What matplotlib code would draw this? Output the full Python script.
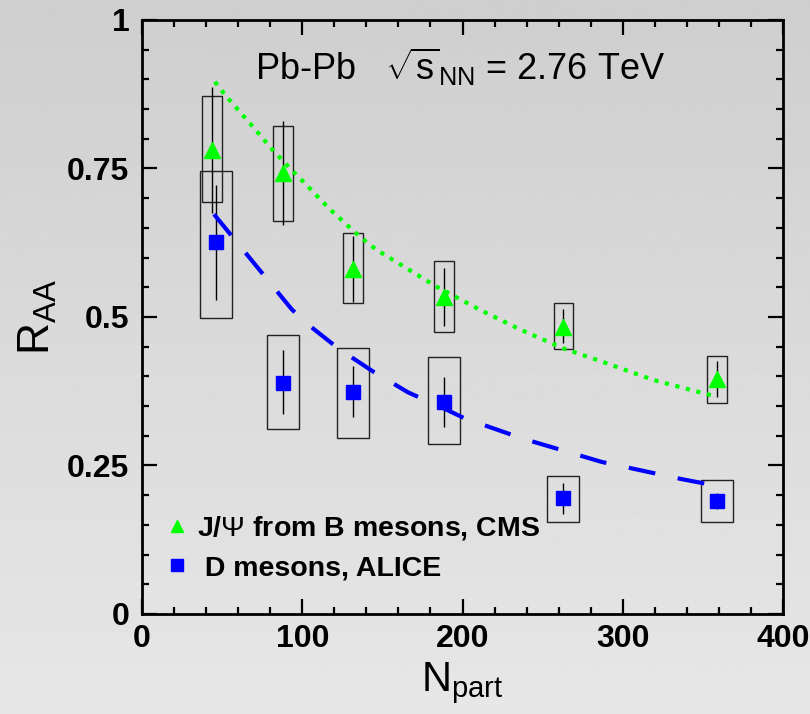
import numpy as np
import matplotlib
matplotlib.use("Agg")
import matplotlib.pyplot as plt
from matplotlib.patches import Rectangle
from matplotlib.lines import Line2D

plt.rcParams["font.family"] = ["Liberation Sans", "DejaVu Sans"]
plt.rcParams["mathtext.fontset"] = "custom"
plt.rcParams["mathtext.rm"] = "Liberation Sans"
plt.rcParams["mathtext.it"] = "Liberation Sans:italic"
plt.rcParams["mathtext.bf"] = "Liberation Sans:bold"

# J/psi from B mesons, CMS
jpsi_npart = [43.7, 88.1, 131.4, 188.4, 263.0, 359.0]
jpsi_raa = [0.781, 0.743, 0.580, 0.534, 0.483, 0.396]
jpsi_stat_lo = [0.675, 0.655, 0.526, 0.485, 0.457, 0.366]
jpsi_stat_hi = [0.888, 0.830, 0.637, 0.582, 0.513, 0.426]
jpsi_syst_lo = [0.693, 0.662, 0.523, 0.475, 0.446, 0.356]
jpsi_syst_hi = [0.872, 0.821, 0.641, 0.594, 0.524, 0.435]

# D mesons, ALICE
d_npart = [46.2, 88.2, 131.8, 188.4, 263.0, 359.0]
d_raa = [0.627, 0.389, 0.374, 0.357, 0.195, 0.190]
d_stat_lo = [0.529, 0.336, 0.332, 0.315, 0.168, 0.176]
d_stat_hi = [0.722, 0.444, 0.418, 0.399, 0.220, 0.204]
d_syst_lo = [0.498, 0.311, 0.296, 0.286, 0.154, 0.154]
d_syst_hi = [0.745, 0.469, 0.448, 0.433, 0.233, 0.225]

# model curves
b_curve_x = [45.5, 52.4, 67.4, 81.9, 92.8, 100.6, 116.2, 136.0, 146.4, 165.1, 183.8,
             210.9, 235.9, 263.0, 283.7, 319.0, 358.2]
b_curve_y = [0.896, 0.872, 0.826, 0.780, 0.749, 0.728, 0.684, 0.635, 0.613, 0.582, 0.551,
             0.512, 0.479, 0.447, 0.428, 0.394, 0.366]
d_curve_x = [44.9, 93.4, 102.8, 123.0, 144.3, 166.1, 188.4, 201.6, 237.9, 286.8, 336.8, 358.2]
d_curve_y = [0.673, 0.513, 0.489, 0.446, 0.408, 0.373, 0.346, 0.329, 0.295, 0.256, 0.227, 0.216]

GREEN = "#00ff00"
BLUE = "#0000ff"

fig = plt.figure(figsize=(8.1, 7.14), dpi=100)

# grey gradient background
bg = fig.add_axes([0, 0, 1, 1], zorder=-10)
grad = np.linspace(0.81, 0.905, 256).reshape(-1, 1)
bg.imshow(grad, aspect="auto", cmap="gray", vmin=0, vmax=1, extent=[0, 1, 0, 1], origin="upper")
bg.set_axis_off()

ax = fig.add_axes([0.1753, 0.1401, 0.7914, 0.8319])
ax.set_facecolor("none")

# systematic boxes
for x, lo, hi in zip(jpsi_npart, jpsi_syst_lo, jpsi_syst_hi):
    ax.add_patch(Rectangle((x - 6.2, lo), 12.4, hi - lo, fill=False,
                           edgecolor="#222222", lw=1.0, zorder=2))
for x, lo, hi in zip(d_npart, d_syst_lo, d_syst_hi):
    ax.add_patch(Rectangle((x - 10, lo), 20, hi - lo, fill=False,
                           edgecolor="#222222", lw=1.0, zorder=2))

# statistical bars
ax.vlines(jpsi_npart, jpsi_stat_lo, jpsi_stat_hi, color="black", lw=1.0, zorder=3)
ax.vlines(d_npart, d_stat_lo, d_stat_hi, color="black", lw=1.0, zorder=3)

# curves
ax.plot(b_curve_x, b_curve_y, color=GREEN, lw=3, ls=(0, (1, 1.6)), zorder=4)
ax.plot(d_curve_x, d_curve_y, color=BLUE, lw=3, ls=(0, (6.5, 5.5)), zorder=4)

# points
ax.plot(jpsi_npart, jpsi_raa, "^", color=GREEN, ms=11, mec=GREEN, ls="none", zorder=5)
ax.plot(d_npart, d_raa, "s", color=BLUE, ms=10, mec=BLUE, ls="none", zorder=5)

ax.set_xlim(0, 400)
ax.set_ylim(0, 1)
ax.set_xticks([0, 100, 200, 300, 400])
ax.set_xticks(np.arange(0, 401, 20), minor=True)
ax.set_yticks([0, 0.25, 0.5, 0.75, 1])
ax.set_yticklabels(["0", "0.25", "0.5", "0.75", "1"])
ax.set_yticks(np.arange(0, 1.001, 0.05), minor=True)
ax.tick_params(which="both", direction="in", top=True, right=True, width=1.6)
ax.tick_params(which="major", length=11, labelsize=23)
ax.tick_params(axis="x", which="major", pad=7)
ax.tick_params(axis="y", which="major", pad=9)
ax.tick_params(which="minor", length=5)
for lab in ax.get_xticklabels() + ax.get_yticklabels():
    lab.set_fontweight("bold")
for s in ax.spines.values():
    s.set_linewidth(2)

ax.set_xlabel(r"N$_{\rm part}$", fontsize=30, labelpad=5)
ax.set_ylabel(r"R$_{\rm AA}$", fontsize=32, labelpad=6)

ax.text(70.5, 0.899, r"Pb-Pb   $\sqrt{\rm s}_{\rm NN}$ = 2.76 TeV", fontsize=26,
        ha="left", va="baseline")

handles = [Line2D([], [], marker="^", color=GREEN, ls="none", ms=9),
           Line2D([], [], marker="s", color=BLUE, ls="none", ms=8)]
leg = ax.legend(handles, [r"J/$\Psi$ from B mesons, CMS", " D mesons, ALICE"],
                loc="lower left", bbox_to_anchor=(-0.007, 0.012), frameon=False,
                prop={"size": 20.5, "weight": "bold"}, handletextpad=0.2,
                labelspacing=0.45, handlelength=1.0)

fig.savefig("out.png", dpi=100)
